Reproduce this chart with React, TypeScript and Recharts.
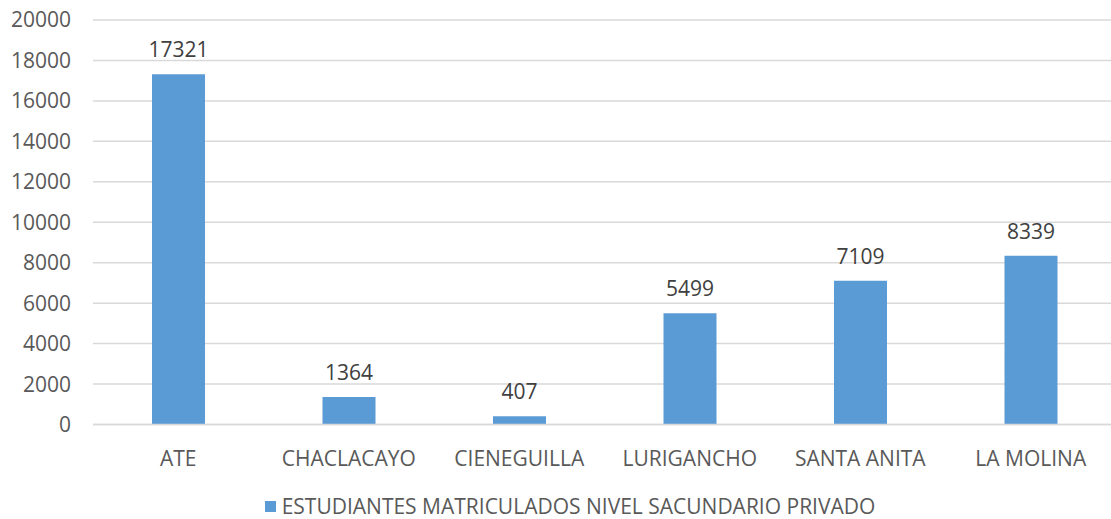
import React from "react";
import { BarChart, Bar, XAxis, YAxis, CartesianGrid, Legend, LabelList } from "recharts";

const categories = ["ATE", "CHACLACAYO", "CIENEGUILLA", "LURIGANCHO", "SANTA ANITA", "LA MOLINA"];
const values = [17321, 1364, 407, 5499, 7109, 8339];
const yTicks = [0, 2000, 4000, 6000, 8000, 10000, 12000, 14000, 16000, 18000, 20000];
const seriesName = "ESTUDIANTES MATRICULADOS NIVEL SACUNDARIO PRIVADO";

const data = categories.map((c, i) => ({ name: c, value: values[i] }));

const FONT = "'Open Sans', sans-serif";
const BLUE = "#5B9BD5";

const LegendContent = () => (
  <div
    style={{
      height: 44.5,
      boxSizing: "border-box",
      paddingTop: 20,
      display: "flex",
      justifyContent: "center",
      alignItems: "center",
      fontFamily: FONT,
      fontSize: 21,
      lineHeight: "21px",
      color: "#595959",
      marginLeft: 24,
      overflow: "visible",
    }}
  >
    <span style={{ display: "inline-block", width: 11, height: 11, background: BLUE, marginRight: 6 }} />
    <span style={{ lineHeight: "21px" }}>{seriesName}</span>
  </div>
);

export default function App() {
  return (
    <div style={{ position: "absolute", left: 0, top: 0, width: 1111, height: 519, overflow: "hidden", background: "#fff" }}>
      <BarChart width={1120} height={519} data={data} margin={{ top: 20, right: 4, left: 0, bottom: 0 }}>
        <CartesianGrid vertical={false} stroke="#D9D9D9" strokeWidth={1.5} />
        <XAxis
          dataKey="name"
          axisLine={{ stroke: "#D9D9D9", strokeWidth: 1.5 }}
          tickLine={false}
          tickSize={0}
          tickMargin={27}
          height={50}
          tick={{ fill: "#595959", fontSize: 21, fontFamily: FONT }}
          interval={0}
        />
        <YAxis
          domain={[0, 20000]}
          ticks={yTicks}
          axisLine={false}
          tickLine={false}
          tickSize={0}
          tickMargin={22}
          width={93}
          tick={{ fill: "#595959", fontSize: 21, fontFamily: FONT }}
          interval={0}
        />
        <Legend verticalAlign="bottom" height={44.5} content={<LegendContent />} />
        <Bar dataKey="value" name={seriesName} fill={BLUE} barSize={53} isAnimationActive={false}>
          <LabelList dataKey="value" position="top" offset={17} fill="#404040" fontSize={21} fontFamily={FONT} />
        </Bar>
      </BarChart>
    </div>
  );
}
